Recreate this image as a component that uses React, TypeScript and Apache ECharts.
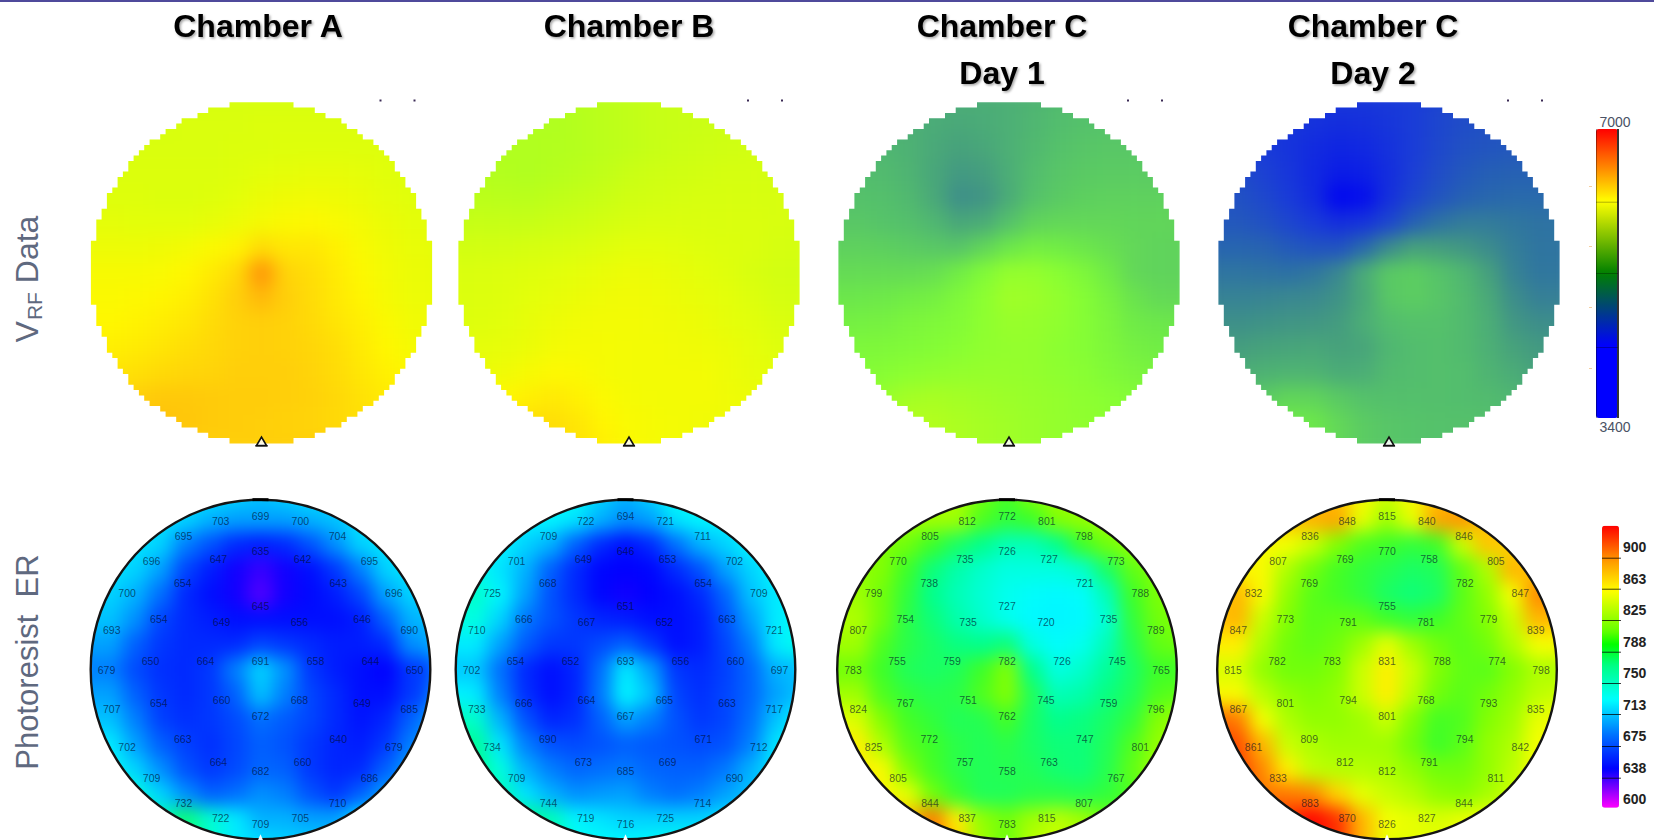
import React, { useEffect, useRef } from "react";
import * as echarts from "echarts";

const titles = ["Chamber A", "Chamber B", "Chamber C", "Chamber C"];
const subTitles = ["", "", "Day 1", "Day 2"];
const rowLabelTop = "V";
const rowLabelBottom = "Photoresist  ER";
const erTicks = [900, 863, 825, 788, 750, 713, 675, 638, 600];

// V_RF readings, 15 x 15 cells, top row first
const vrfA = [
[5860,5860,5860,5860,5860,5860,5860,5860,5860,5860,5860,5860,5860,5860,5860],
[5860,5860,5860,5860,5870,5870,5870,5880,5880,5880,5880,5880,5880,5880,5880],
[5870,5870,5870,5870,5870,5870,5880,5880,5890,5890,5890,5890,5890,5890,5890],
[5880,5880,5880,5880,5880,5880,5890,5910,5920,5930,5930,5920,5900,5890,5890],
[5890,5890,5890,5880,5880,5890,5910,5950,5970,5980,5970,5950,5920,5900,5900],
[5920,5920,5910,5910,5910,5930,5960,6000,6030,6040,6020,5990,5950,5920,5920],
[5960,5960,5960,5970,5990,6030,6070,6180,6130,6130,6080,6020,5970,5940,5940],
[6010,6010,6010,6020,6050,6110,6190,6500,6220,6170,6110,6040,5990,5950,5950],
[6030,6030,6040,6060,6090,6150,6240,6350,6240,6180,6120,6060,6000,5960,5960],
[6050,6050,6070,6100,6130,6180,6230,6240,6230,6190,6140,6090,6030,5980,5980],
[6090,6090,6110,6140,6170,6200,6230,6240,6230,6210,6170,6110,6050,6000,6000],
[6140,6140,6160,6190,6210,6220,6240,6240,6240,6220,6180,6130,6080,6040,6040],
[6200,6200,6240,6270,6270,6260,6250,6250,6240,6230,6200,6150,6110,6080,6080],
[6280,6280,6300,6300,6280,6260,6250,6240,6230,6220,6190,6160,6130,6110,6110],
[6240,6240,6240,6240,6240,6240,6240,6240,6240,6240,6240,6240,6240,6240,6240],
];
const vrfB = [
[5700,5700,5700,5700,5710,5730,5750,5770,5790,5800,5810,5810,5810,5810,5810],
[5700,5700,5700,5700,5700,5720,5750,5770,5790,5800,5810,5820,5820,5820,5820],
[5700,5700,5700,5700,5710,5720,5750,5770,5790,5810,5820,5830,5840,5840,5840],
[5720,5720,5710,5700,5720,5740,5770,5800,5820,5830,5840,5850,5850,5850,5850],
[5750,5750,5740,5740,5760,5780,5800,5830,5840,5850,5860,5860,5860,5860,5860],
[5790,5790,5790,5790,5810,5820,5840,5860,5870,5870,5870,5870,5870,5860,5860],
[5840,5840,5840,5850,5860,5870,5890,5910,5910,5900,5890,5880,5870,5850,5850],
[5870,5870,5880,5890,5900,5920,5940,5960,5950,5930,5910,5890,5860,5840,5840],
[5880,5880,5890,5910,5930,5950,5970,5980,5970,5950,5930,5910,5880,5850,5850],
[5890,5890,5900,5930,5960,5980,5990,5990,5980,5970,5950,5920,5900,5870,5870],
[5920,5920,5930,5950,5990,6000,6000,5990,5990,5980,5970,5950,5920,5890,5890],
[5950,5950,5970,6010,6040,6030,6000,5990,5990,5990,5990,5960,5930,5910,5910],
[6020,6020,6050,6090,6120,6080,6030,6000,5990,5990,5990,5970,5950,5940,5940],
[6100,6100,6140,6170,6170,6130,6060,6020,6000,5990,5980,5970,5960,5960,5960],
[6130,6130,6150,6170,6180,6150,6090,6030,6000,5990,5980,5970,5960,5960,5960],
];
const vrfC1 = [
[5000,5000,5000,5000,5000,5000,5000,5010,5030,5060,5080,5080,5080,5080,5080],
[5010,5010,5010,5010,4990,4980,4990,5010,5040,5070,5090,5100,5100,5100,5100],
[5040,5040,5040,5020,4980,4950,4970,5010,5050,5090,5110,5120,5120,5120,5120],
[5070,5070,5060,5030,4970,4910,4930,5000,5070,5110,5130,5140,5140,5140,5140],
[5090,5090,5080,5050,4980,4870,4890,4990,5090,5130,5160,5170,5170,5170,5170],
[5120,5120,5100,5080,5040,4970,4990,5090,5180,5200,5200,5200,5190,5190,5190],
[5170,5170,5160,5140,5120,5110,5190,5280,5340,5320,5280,5240,5200,5180,5180],
[5220,5220,5220,5220,5240,5320,5450,5560,5560,5500,5420,5300,5200,5180,5180],
[5280,5280,5290,5320,5350,5430,5520,5620,5600,5550,5480,5370,5260,5210,5210],
[5350,5350,5360,5400,5430,5460,5530,5580,5570,5540,5480,5400,5300,5280,5280],
[5420,5420,5430,5450,5470,5500,5540,5560,5560,5520,5480,5420,5350,5320,5320],
[5470,5470,5490,5520,5540,5560,5570,5570,5560,5530,5500,5450,5400,5380,5380],
[5530,5530,5580,5640,5660,5640,5620,5600,5580,5560,5530,5500,5470,5450,5450],
[5600,5600,5680,5720,5710,5680,5650,5620,5590,5560,5540,5520,5500,5500,5500],
[5650,5650,5680,5720,5710,5680,5650,5620,5590,5560,5540,5520,5500,5500,5500],
];
const vrfC2 = [
[4470,4470,4470,4470,4470,4470,4470,4480,4500,4530,4560,4580,4580,4580,4580],
[4480,4480,4470,4460,4440,4420,4430,4460,4500,4540,4570,4590,4590,4590,4590],
[4520,4520,4490,4450,4400,4370,4390,4440,4500,4550,4590,4610,4620,4620,4620],
[4560,4560,4520,4460,4390,4320,4340,4420,4510,4570,4620,4650,4660,4660,4660],
[4590,4590,4550,4490,4400,4200,4250,4430,4540,4610,4660,4690,4700,4700,4700],
[4620,4620,4590,4540,4480,4420,4450,4540,4660,4740,4780,4780,4760,4740,4740],
[4680,4680,4670,4630,4600,4600,4700,4850,4950,4930,4900,4850,4790,4750,4750],
[4750,4750,4740,4730,4760,4830,4990,5130,5150,5100,5040,4940,4810,4760,4760],
[4810,4810,4820,4830,4840,4880,4980,5120,5150,5110,5060,4980,4860,4800,4800],
[4870,4870,4880,4890,4900,4920,5000,5070,5090,5090,5060,5000,4900,4860,4860],
[4930,4930,4950,4960,4970,4950,4960,5040,5070,5080,5060,5010,4950,4910,4910],
[5000,5000,5020,5030,5030,4990,5000,5060,5070,5080,5070,5030,4990,4950,4950],
[5080,5080,5140,5190,5180,5130,5090,5080,5080,5080,5070,5060,5040,5010,5010],
[5200,5200,5270,5300,5280,5200,5140,5110,5100,5090,5090,5080,5060,5050,5050],
[5250,5250,5280,5300,5280,5200,5140,5110,5100,5090,5090,5080,5060,5050,5050],
];

// Etch-rate readings, 15 x 15 cells, top row first
const erMapA = [
[710,710,710,710,710,710,705,700,705,710,710,710,710,710,710],
[710,710,710,710,705,695,690,690,690,695,700,710,710,710,710],
[710,710,710,705,680,665,650,645,650,665,685,705,710,710,710],
[710,710,705,690,660,645,632,625,632,640,655,680,705,710,710],
[705,705,695,675,650,640,632,620,632,638,645,660,690,705,705],
[700,700,685,660,650,645,640,640,640,640,640,645,670,695,700],
[690,690,670,655,650,650,650,660,655,650,645,645,650,685,690],
[680,680,662,652,650,655,680,705,685,655,645,640,635,655,660],
[690,690,670,655,650,655,670,700,680,660,650,640,640,655,670],
[700,700,680,658,652,655,662,675,668,660,650,642,648,670,690],
[712,712,690,670,658,652,660,670,665,655,648,645,655,680,695],
[720,720,705,685,665,655,662,672,670,655,648,650,670,690,700],
[740,740,725,705,685,670,675,685,680,665,655,670,690,700,710],
[745,745,745,735,750,728,712,695,695,690,690,710,715,715,715],
[745,745,745,745,750,730,712,708,705,705,705,715,715,715,715],
];
const erMapB = [
[720,720,720,720,720,720,705,695,705,720,720,720,720,720,720],
[720,720,720,715,715,710,695,685,690,710,715,715,720,720,720],
[720,720,715,705,695,670,650,640,650,675,695,705,715,720,720],
[722,722,710,695,670,650,637,635,637,650,665,690,705,715,720],
[730,730,715,690,665,650,637,632,635,640,650,672,700,712,715],
[725,725,705,678,665,655,648,645,640,640,645,665,690,712,718],
[712,712,690,668,655,655,662,670,655,640,645,660,680,712,722],
[702,702,675,650,640,648,675,712,690,655,650,658,672,695,700],
[715,712,680,652,640,648,678,715,700,660,652,660,672,690,700],
[735,730,695,665,648,652,670,690,680,665,655,660,675,700,715],
[745,742,710,680,665,662,665,670,667,665,662,665,680,710,720],
[745,745,725,695,680,672,675,678,672,670,670,678,695,712,715],
[745,745,735,710,695,685,688,690,680,675,680,690,700,705,705],
[750,750,750,745,735,715,710,705,705,705,705,710,712,712,712],
[750,750,750,750,745,722,718,716,718,722,720,715,715,715,715],
];
const erMapC1 = [
[800,800,800,800,805,805,785,772,790,800,800,800,800,800,800],
[800,800,800,800,800,800,775,765,770,790,795,800,800,800,800],
[795,795,790,785,770,755,745,735,735,745,770,785,795,795,795],
[795,795,790,770,750,738,730,725,725,725,730,755,780,790,790],
[800,800,785,765,745,735,728,722,718,716,718,735,770,788,790],
[805,805,785,762,750,738,730,722,716,715,716,728,765,785,790],
[800,800,775,762,755,748,745,750,725,718,722,735,760,780,785],
[785,785,770,758,755,758,770,790,745,725,730,742,755,770,770],
[800,800,775,765,760,762,775,790,758,735,738,748,758,775,780],
[825,820,790,772,765,758,760,772,755,745,748,755,765,790,800],
[840,845,805,778,770,762,758,762,755,750,750,758,775,795,805],
[850,845,835,790,772,762,758,760,758,752,750,760,780,800,805],
[855,855,838,825,785,768,758,758,762,762,760,765,775,785,785],
[860,860,860,860,885,845,795,785,800,810,800,785,775,775,775],
[860,860,860,860,885,855,800,782,810,815,805,785,775,775,775],
];
const erMapC2 = [
[860,860,860,860,860,860,835,815,835,860,860,860,860,860,860],
[860,860,860,860,865,870,825,800,825,870,875,860,860,860,860],
[840,840,835,830,815,790,775,770,765,770,815,860,855,850,850],
[840,840,835,805,785,772,765,760,755,758,780,805,865,860,850],
[850,865,835,795,778,772,765,755,750,755,778,795,830,880,875],
[860,865,815,790,778,780,780,770,765,770,780,790,815,865,860],
[845,845,805,785,780,785,800,825,800,785,778,785,805,830,835],
[820,820,795,785,785,790,815,845,815,790,780,778,790,805,805],
[835,835,810,795,790,795,815,845,810,785,778,785,795,810,815],
[890,885,830,805,795,795,800,815,790,772,775,790,800,825,835],
[900,900,865,815,805,800,800,800,785,770,778,795,805,830,840],
[905,905,880,845,812,808,808,805,795,785,785,795,810,835,845],
[905,905,885,885,880,855,825,815,808,795,792,802,815,825,825],
[910,910,910,910,925,910,865,830,825,820,825,830,820,820,820],
[915,915,915,915,925,910,865,825,825,825,830,830,825,825,825],
];

// Printed site values: centre, then rings clockwise from the top
const centreSites = [691, 693, 782, 831];
const innerSites = [
  [645,656,658,668,672,660,664,649],
  [651,652,656,665,667,664,652,667],
  [727,720,726,745,762,751,759,735],
  [755,781,788,768,801,794,783,791],
];
const middleSites = [
  [635,642,643,646,644,649,640,660,682,664,663,654,650,654,654,647],
  [646,653,654,663,660,663,671,669,685,673,690,666,654,666,668,649],
  [726,727,721,735,745,759,747,763,758,757,772,767,755,754,738,735],
  [770,758,782,779,774,793,794,791,812,812,809,801,782,773,769,769],
];
const outerSites = [
  [699,700,704,695,696,690,650,685,679,686,710,705,709,722,732,709,702,707,679,693,700,696,695,703],
  [694,721,711,702,709,721,697,717,712,690,714,725,716,719,744,709,734,733,702,710,725,701,709,722],
  [772,801,798,773,788,789,765,796,801,767,807,815,783,837,844,805,825,824,783,807,799,770,805,812],
  [815,840,846,805,847,839,798,835,842,811,844,827,826,870,883,833,861,867,815,847,832,807,836,848],
];

const topCx = [261.5, 629, 1009, 1389];
const topCy = 272.8;
const topR = 170.5;
const botCx = [260.5, 625.5, 1007, 1387];
const botCy = 669.5;
const botR = 169.8;
const CELL = 25;
const N = 15;

type Stop = [number, number[]];
const ramp = (stops: Stop[], count = 96) => {
  const lo = stops[0][0];
  const hi = stops[stops.length - 1][0];
  const out: string[] = [];
  for (let i = 0; i < count; i++) {
    const v = lo + ((hi - lo) * i) / (count - 1);
    let k = 0;
    while (k < stops.length - 2 && v > stops[k + 1][0]) k++;
    const t = (v - stops[k][0]) / (stops[k + 1][0] - stops[k][0]);
    const c = stops[k][1].map((a, j) => Math.round(a + (stops[k + 1][1][j] - a) * t));
    out.push(`rgb(${c[0]},${c[1]},${c[2]})`);
  }
  return out;
};

const vrfWaferStops: Stop[] = [
  [3400,[0,0,255]],[4200,[0,5,240]],[4500,[25,60,215]],[4700,[40,105,170]],[4900,[65,150,130]],
  [5100,[85,195,105]],[5300,[110,235,70]],[5500,[135,255,50]],[5700,[175,255,30]],[5900,[225,255,10]],
  [6050,[255,248,0]],[6250,[255,205,10]],[6450,[255,165,10]],[6700,[255,90,0]],[7000,[255,0,0]],
];
const vrfBarStops: Stop[] = [
  [3400,[0,0,255]],[4293,[0,0,255]],[5206,[0,128,0]],[6099,[255,255,0]],[7000,[255,0,0]],
];
const erBarStops: Stop[] = [
  [589,[255,0,255]],[635,[0,0,255]],[675,[0,110,255]],[718,[0,255,255]],[760,[0,255,128]],
  [784,[0,255,0]],[800,[100,255,0]],[848,[255,255,0]],[885,[255,150,0]],[926,[255,0,0]],
];
const erWaferStops: Stop[] = [
  [589,[255,0,255]],[635,[0,0,255]],[675,[0,110,255]],[718,[0,255,255]],[745,[0,255,140]],
  [770,[60,255,40]],[790,[130,255,0]],[830,[245,255,0]],[845,[255,240,0]],[870,[255,165,0]],[905,[255,60,0]],[926,[255,0,0]],
];

const staircase = (cx: number, cy: number, R: number) => {
  const s = 5.33;
  const rows = Math.round(R / s);
  const right: string[] = [];
  const left: string[] = [];
  for (let i = -rows; i < rows; i++) {
    const y0 = i * s;
    const y1 = (i + 1) * s;
    const ym = (y0 + y1) / 2;
    const w = Math.round(Math.sqrt(Math.max(0, R * R - ym * ym)) / s) * s;
    right.push(`L${(cx + w).toFixed(1)} ${(cy + y0).toFixed(1)} L${(cx + w).toFixed(1)} ${(cy + y1).toFixed(1)}`);
    left.unshift(`L${(cx - w).toFixed(1)} ${(cy + y1).toFixed(1)} L${(cx - w).toFixed(1)} ${(cy + y0).toFixed(1)}`);
  }
  return `M${cx} ${(cy - rows * s).toFixed(1)} ${right.join(" ")} ${left.join(" ")} Z`;
};
const circlePath = (cx: number, cy: number, R: number) =>
  `M${cx - R} ${cy} A${R} ${R} 0 1 1 ${cx + R} ${cy} A${R} ${R} 0 1 1 ${cx - R} ${cy} Z`;

const clipD = [
  ...topCx.map((x) => staircase(x, topCy, topR)),
  ...botCx.map((x) => circlePath(x, botCy, botR)),
].join(" ");

const cats = Array.from({ length: N }, (_, i) => String(i));

const sitePoints = (w: number) => {
  const ring = (vals: number[], r: number, dy: number) =>
    vals.map((v, k) => {
      const a = (k * 2 * Math.PI) / vals.length;
      return [r * Math.sin(a), r * Math.cos(a) + dy, v];
    });
  return [
    [0, 8.7, centreSites[w]],
    ...ring(innerSites[w], 55, 8.7),
    ...ring(middleSites[w], 110, 8.7),
    ...ring(outerSites[w], 154, 0),
  ];
};

export default function App() {
  const baseRef = useRef<HTMLDivElement>(null);
  const topRef = useRef<HTMLDivElement>(null);

  useEffect(() => {
    document.body.style.margin = "0";
    const base = echarts.init(baseRef.current!, undefined, { renderer: "svg" });
    const over = echarts.init(topRef.current!, undefined, { renderer: "svg" });

    const maps = [vrfA, vrfB, vrfC1, vrfC2, erMapA, erMapB, erMapC1, erMapC2];
    const centers = [...topCx.map((x) => [x, topCy]), ...botCx.map((x) => [x, botCy])];

    base.setOption({
      animation: false,
      grid: centers.map(([x, y]) => ({
        left: x - (N * CELL) / 2, top: y - (N * CELL) / 2, width: N * CELL, height: N * CELL,
      })),
      xAxis: centers.map((_, i) => ({ type: "category", data: cats, gridIndex: i, show: false })),
      yAxis: centers.map((_, i) => ({ type: "category", data: cats, gridIndex: i, show: false, inverse: true })),
      visualMap: [
        { show: false, min: 3400, max: 7000, seriesIndex: [0, 1, 2, 3], inRange: { color: ramp(vrfWaferStops) } },
        { show: false, min: 589, max: 926, seriesIndex: [4, 5, 6, 7], inRange: { color: ramp(erWaferStops) } },
      ],
      series: maps.map((m, i) => ({
        type: "heatmap", xAxisIndex: i, yAxisIndex: i, progressive: 0, silent: true,
        data: m.flatMap((row, r) => row.map((v, c) => [c, r, v])),
      })),
    });

    const gfx: any[] = [];
    const gray = "#5f697f";
    const font = '"Liberation Sans", Arial, sans-serif';
    gfx.push({ type: "rect", shape: { x: 0, y: 0, width: 1654, height: 2 }, style: { fill: "#4f4a9b" } });
    const title = (text: string, x: number, y: number) => ({
      type: "text", x, y,
      style: {
        text, align: "center", verticalAlign: "middle", fill: "#000",
        font: `bold 32px ${font}`,
        textShadowColor: "rgba(0,0,0,0.35)", textShadowBlur: 2, textShadowOffsetX: 1.5, textShadowOffsetY: 1.5,
      },
    });
    const titleX = [258, 629, 1002, 1373];
    titles.forEach((t, i) => gfx.push(title(t, titleX[i], 26)));
    subTitles.forEach((t, i) => { if (t) gfx.push(title(t, titleX[i], 73)); });

    gfx.push({
      type: "text", x: 27, y: 279, rotation: Math.PI / 2,
      style: {
        text: `{v|${rowLabelTop}}{s|RF}{v| Data}`, align: "center", verticalAlign: "middle", fill: gray,
        rich: {
          v: { fontFamily: font, fontSize: 32, fill: gray, color: gray },
          s: { fontFamily: font, fontSize: 21, fill: gray, color: gray, verticalAlign: "bottom", padding: [14, 0, 0, 1] },
        },
      },
    });
    gfx.push({
      type: "text", x: 27, y: 662, rotation: Math.PI / 2,
      style: { text: rowLabelBottom, align: "center", verticalAlign: "middle", fill: gray, font: `31px ${font}` },
    });

    topCx.forEach((cx) => {
      gfx.push({
        type: "polygon",
        shape: { points: [[cx - 5, 445.5], [cx + 5, 445.5], [cx, 437]] },
        style: { fill: "rgba(255,255,255,0.85)", stroke: "#111", lineWidth: 1.6 },
      });
      gfx.push({ type: "rect", shape: { x: cx - 6, y: 445, width: 12, height: 1.6 }, style: { fill: "#111" } });
      [119, 153].forEach((d) =>
        gfx.push({ type: "rect", shape: { x: cx + d - 1, y: 99.5, width: 2, height: 2 }, style: { fill: "#3a2a55" } })
      );
    });
    botCx.forEach((cx) => {
      gfx.push({
        type: "circle", shape: { cx, cy: botCy, r: botR },
        style: { fill: "none", stroke: "#141414", lineWidth: 2.4 },
      });
      gfx.push({ type: "rect", shape: { x: cx - 8, y: botCy - botR - 1.5, width: 16, height: 3 }, style: { fill: "#000" } });
      gfx.push({
        type: "polygon",
        shape: { points: [[cx - 3, botCy + botR + 2], [cx + 3, botCy + botR + 2], [cx, botCy + botR - 5]] },
        style: { fill: "#fff" },
      });
    });

    // colour bars
    gfx.push({ type: "text", x: 1615, y: 122, style: { text: "7000", align: "center", verticalAlign: "middle", fill: "#4a5265", font: `14px ${font}` } });
    gfx.push({ type: "text", x: 1615, y: 426.5, style: { text: "3400", align: "center", verticalAlign: "middle", fill: "#4a5265", font: `14px ${font}` } });
    gfx.push({ type: "rect", z: 20, shape: { x: 1617, y: 129, width: 2, height: 289 }, style: { fill: "#333" } });
    gfx.push({ type: "rect", z: 20, shape: { x: 1596, y: 129, width: 1, height: 289 }, style: { fill: "rgba(0,0,0,0.35)" } });
    [201.7, 273, 347].forEach((y) =>
      gfx.push({ type: "rect", z: 20, shape: { x: 1596, y, width: 22, height: 1 }, style: { fill: "rgba(0,0,0,0.3)" } })
    );
    [186, 246, 307, 368].forEach((y) =>
      gfx.push({ type: "rect", z: 20, shape: { x: 1589, y, width: 3, height: 1 }, style: { fill: "#f5cfa0" } })
    );
    [557.7, 588.7, 620, 651.7, 683, 714, 746, 777.7].forEach((y) =>
      gfx.push({ type: "rect", z: 20, shape: { x: 1602, y, width: 19, height: 1 }, style: { fill: "rgba(0,0,0,0.75)" } })
    );

    over.setOption({
      animation: false,
      backgroundColor: "transparent",
      grid: [
        ...botCx.map((x) => ({ left: x - 170, top: botCy - 170, width: 340, height: 340 })),
        { left: 1602, top: 547, width: 18, height: 252 },
      ],
      xAxis: [
        ...botCx.map((_, i) => ({ type: "value", min: -170, max: 170, gridIndex: i, show: false })),
        { type: "category", data: ["bar"], gridIndex: 4, show: false },
      ],
      yAxis: [
        ...botCx.map((_, i) => ({ type: "value", min: -170, max: 170, gridIndex: i, show: false })),
        {
          type: "value", gridIndex: 4, min: 600, max: 900, interval: 37.5,
          position: "right", splitLine: { show: false }, axisLine: { show: false }, axisTick: { show: false },
          axisLabel: {
            margin: 3, color: "#222", fontFamily: font, fontWeight: "bold", fontSize: 14,
            formatter: (v: number) => String(erTicks.find((t) => Math.abs(t - v) < 1) ?? Math.round(v)),
          },
        },
      ],
      visualMap: [
        {
          type: "continuous", show: true, calculable: false, seriesIndex: [4], min: 3400, max: 7000, padding: 0,
          left: 1596, top: 129, itemWidth: 22, itemHeight: 289, text: null, hoverLink: false,
          inRange: { color: ramp(vrfBarStops) },
        },
        {
          type: "continuous", show: true, calculable: false, seriesIndex: [5], min: 589, max: 926, padding: 0,
          left: 1602, top: 525.7, itemWidth: 17, itemHeight: 282, text: null, hoverLink: false,
          inRange: { color: ramp(erBarStops) },
        },
      ],
      graphic: gfx,
      series: [
        ...botCx.map((_, i) => ({
          type: "scatter", xAxisIndex: i, yAxisIndex: i, symbolSize: 1, silent: true,
          itemStyle: { color: "transparent" },
          data: sitePoints(i),
          label: {
            show: true, position: "inside", formatter: (p: any) => String(p.value[2]),
            color: "rgba(0,10,40,0.8)", fontFamily: '"Liberation Sans Narrow", "Liberation Sans", sans-serif', fontSize: 10.5,
          },
        })),
        { type: "scatter", xAxisIndex: 4, yAxisIndex: 4, data: [], silent: true },
        { type: "scatter", xAxisIndex: 4, yAxisIndex: 4, data: [], silent: true },
      ],
    });

    return () => {
      base.dispose();
      over.dispose();
    };
  }, []);

  return (
    <div style={{ position: "absolute", left: 0, top: 0, width: 1654, height: 840, overflow: "hidden", background: "#fff" }}>
      <div style={{ position: "absolute", left: 0, top: 0, width: 1654, height: 880, clipPath: `path("${clipD}")` }}>
        <div ref={baseRef} style={{ width: 1654, height: 880, filter: "blur(9px)" }} />
      </div>
      <div ref={topRef} style={{ position: "absolute", left: 0, top: 0, width: 1654, height: 840 }} />
    </div>
  );
}
